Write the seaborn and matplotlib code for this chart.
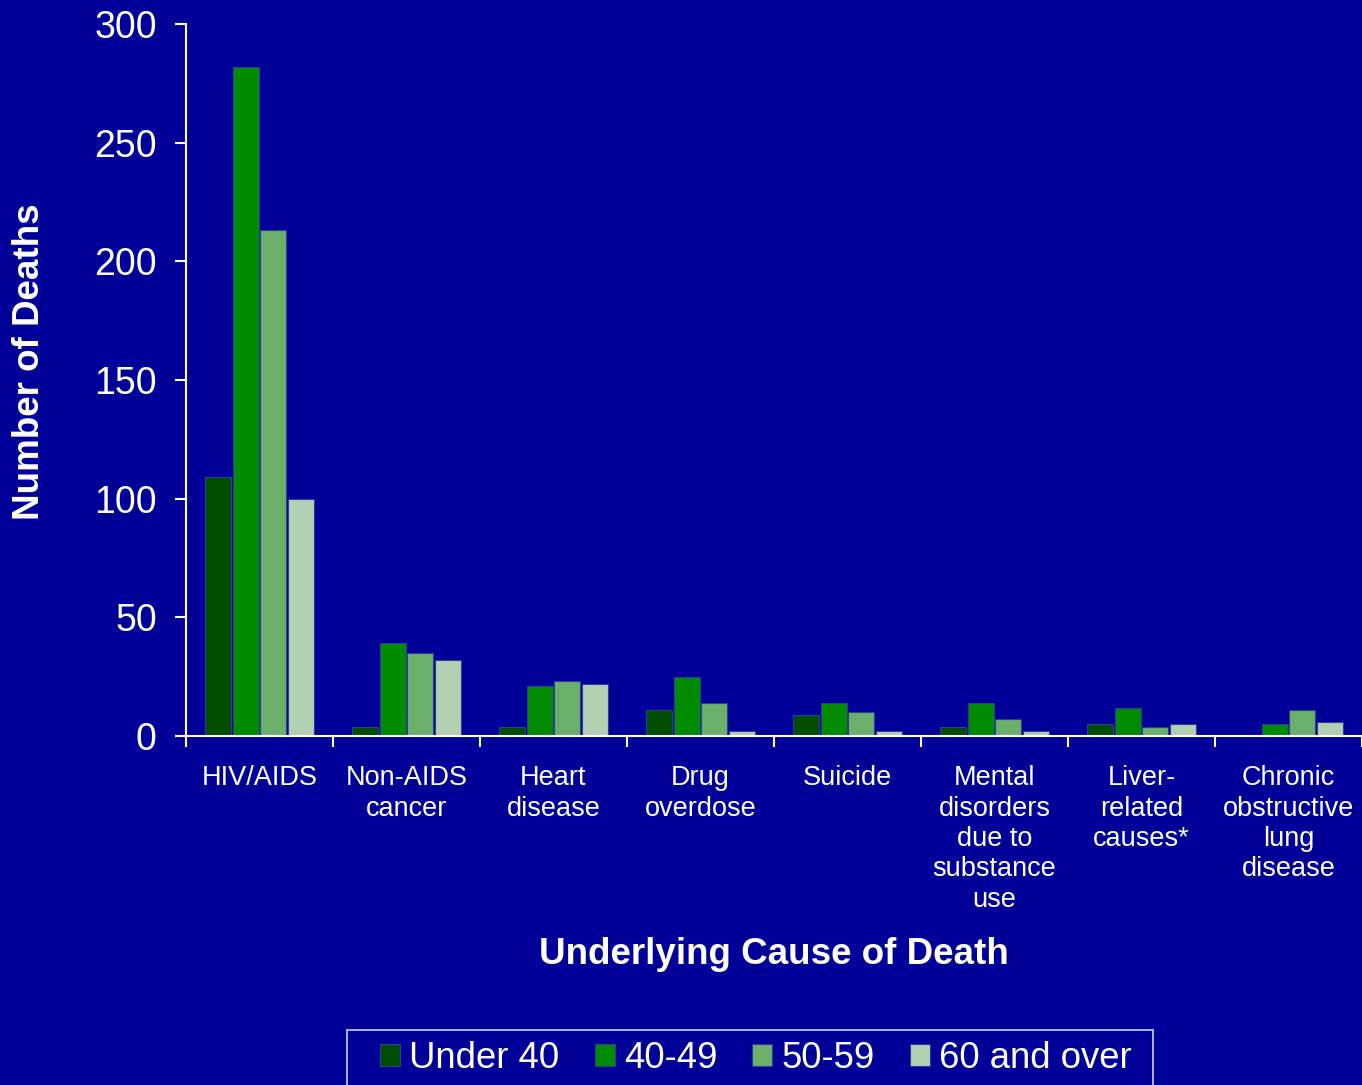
import numpy as np
import pandas as pd
import matplotlib
matplotlib.use("Agg")
import matplotlib.pyplot as plt
import seaborn as sns
from matplotlib.patches import Rectangle

# ── Data ──────────────────────────────────────────────────────────────────────
causes = [
    "HIV/AIDS", "Non-AIDS\ncancer", "Heart\ndisease", "Drug\noverdose",
    "Suicide", "Mental\ndisorders\ndue to\nsubstance\nuse",
    "Liver-\nrelated\ncauses*", "Chronic\nobstructive\nlung\ndisease",
]
age_groups = ["Under 40", "40-49", "50-59", "60 and over"]
under_40 = [109, 4, 4, 11, 9, 4, 5, 0]
age_40_49 = [282, 39, 21, 25, 14, 14, 12, 5]
age_50_59 = [213, 35, 23, 14, 10, 7, 4, 11]
age_60_up = [100, 32, 22, 2, 2, 2, 5, 6]

BG = "#000099"
colors = ["#004d00", "#008c00", "#6ab06a", "#b3d0b3"]

rows = []
for grp, vals in zip(age_groups, [under_40, age_40_49, age_50_59, age_60_up]):
    for cause, v in zip(causes, vals):
        rows.append({"cause": cause, "age": grp, "deaths": v})
df = pd.DataFrame(rows)

# ── Plot ──────────────────────────────────────────────────────────────────────
sns.set_theme(style="white")
plt.rcParams["font.family"] = ["Liberation Sans", "DejaVu Sans"]

W, H = 1362, 1085
fig = plt.figure(figsize=(W / 100, H / 100), dpi=100, facecolor=BG)
ax = fig.add_axes([186 / W, 1 - 736 / H, 1 - 186 / W, (736 - 24) / H])
ax.set_facecolor(BG)

sns.barplot(
    data=df, x="cause", y="deaths", hue="age", order=causes,
    hue_order=age_groups, palette=colors, saturation=1, width=0.75, gap=0.07,
    edgecolor="#2a3f8f", linewidth=0.8, ax=ax, legend=True,
)

ax.set_xlim(-0.5, 7.5)
ax.set_ylim(0, 300)
ax.set_yticks([0, 50, 100, 150, 200, 250, 300])

for s in ["top", "right"]:
    ax.spines[s].set_visible(False)
for s in ["left", "bottom"]:
    ax.spines[s].set_color("white")
    ax.spines[s].set_linewidth(1.5)

ax.tick_params(axis="y", colors="white", labelsize=27, length=8, width=1.5,
               direction="out", left=True, pad=13)
ax.tick_params(axis="x", which="major", colors="white", labelsize=19.5,
               length=0, pad=21)
ax.set_xticks(np.arange(-0.5, 8.0, 1.0), minor=True)
ax.tick_params(axis="x", which="minor", colors="white", length=8, width=1.5,
               direction="out", bottom=True)
for lbl in ax.get_xticklabels():
    lbl.set_linespacing(1.22)
    lbl.set_verticalalignment("top")

ax.set_xlabel("Underlying Cause of Death", color="white", fontsize=26.5,
              fontweight="bold")
ax.set_ylabel("Number of Deaths", color="white", fontsize=26.5,
              fontweight="bold")
ax.xaxis.set_label_coords(0.5, (736 - 955) / 712, transform=ax.transAxes)
ax.xaxis.label.set_verticalalignment("center")
ax.yaxis.set_label_coords((30 - 186) / 1176, (736 - 362) / 712)
ax.yaxis.label.set_verticalalignment("center")

# legend: frameless, with its box drawn separately so the padding matches
handles, labels = ax.get_legend_handles_labels()
ax.get_legend().remove()
leg = fig.legend(
    handles, labels, loc="center", bbox_to_anchor=(756 / W, 1 - 1058 / H),
    borderaxespad=0, ncol=4, fontsize=26.3, frameon=False,
    handlelength=0.55, handleheight=0.55, handletextpad=0.25,
    columnspacing=0.96, borderpad=0,
)
for t in leg.get_texts():
    t.set_color("white")
fig.patches.append(Rectangle(
    (347 / W, -0.01), (1153 - 347) / W, (H - 1030) / H + 0.01,
    transform=fig.transFigure, facecolor="none", edgecolor="#d0d0e0",
    linewidth=1.2,
))

fig.savefig("out.png", dpi=100, facecolor=BG)
